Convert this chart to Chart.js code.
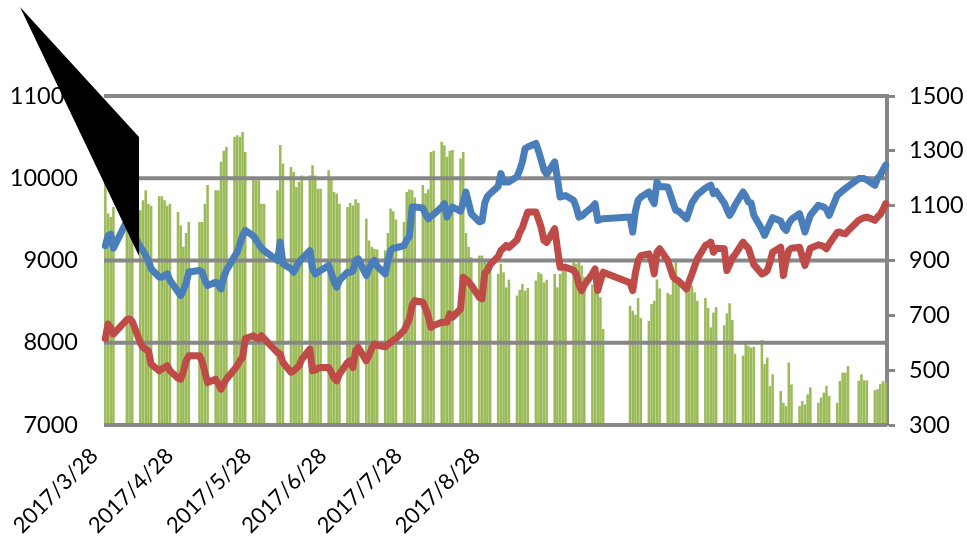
<!DOCTYPE html>
<html>
<head>
<meta charset="utf-8">
<script src="https://cdn.jsdelivr.net/npm/chart.js@4.4.1/dist/chart.umd.min.js"></script>
<style>
  html, body { margin: 0; padding: 0; background: #fff; }
  canvas { display: block; }
</style>
</head>
<body>
<canvas id="chart" width="967" height="547"></canvas>
<script>
// calendar axis: one category per day, bars only on trading days
var startDate = new Date(2017, 2, 28);
var dayCount = 291;
var holidays = ['2017/4/3', '2017/4/4', '2017/5/1', '2017/5/29', '2017/5/30',
  '2017/10/2', '2017/10/3', '2017/10/4', '2017/10/5', '2017/10/6', '2018/1/1'];

// tick labels and the category each one is drawn on
var tickLabels = ['2017/3/28', '2017/4/28', '2017/5/28', '2017/6/28', '2017/7/28', '2017/8/28'];
var tickIndex = [0, 28, 57, 85, 113, 142];

// one value per trading day (right axis)
var volume = [
  1192,1071,1059,1095, 1150,1120,1100, 1083,1120,1156,1107,1100, 1134,1134,1120,1100,1107, 1077,1028,950,1000,1040,
  1040,1040,1107,1175, 1156,1156,1260,1300,1315, 1351,1357,1351,1369,1296, 1203,1193,1193,1107,1107,
  1156,1321,1254, 1241,1223,1168,1186,1210, 1210,1247,1210,1162,1162, 1229,1205,1150,1144,1107, 1095,1110,1101,1123,1110,
  1053,973,950,943,940, 937,1000,1090,1080,1050, 1040,1150,1159,1156,1130, 1175,1145,1160,1296,1300,
  1333,1320,1278,1300,1303, 1272,1296,1000,950,912, 918,918,906,890,880, 851,888,857,802,830,
  772,793,815,790,800, 827,857,851,820,830, 851,802,851,863,888, 906,888,906,882,840, 812,845,800,766,650,
  735,717,702,763,690, 680,741,753,831,798, 782,776,863,900,839, 808,827,808,784,753,
  763,727,656,710,730, 664,707,744,683,560, 553,607,589,583,585, 610,522,546,442,485,
  424,381,369,528,448, 369,387,375,412,437, 381,400,418,443,406, 381,461,491,491,515,
  461,485,463,463, 427,431,449,460,455
];

// left axis lines
var blueLine = [
  9180,9300,9320,9150, 9480,9450,9350, 9163,9120,9060,9000,8900, 8800,8797,8820,8837,8760, 8620,8573,8640,8720,8860,
  8878,8860,8760,8695, 8736,8700,8655,8800,8880, 9050,9100,9200,9300,9366, 9300,9250,9200,9150,9120,
  9000,9224,8960, 8900,8858,8920,8980,9020, 9120,8900,8837,8860,8878, 8939,8850,8740,8675,8760, 8858,8858,8870,9000,9020,
  8817,8900,8970,9000,8930, 8837,8990,9120,9150,9155, 9180,9250,9290,9650,9650, 9640,9560,9508,9540,9560,
  9650,9691,9528,9600,9650, 9600,9700,9833,9700,9569, 9470,9480,9700,9780,9813, 9900,10057,9955,9955,9955,
  10020,10098,10200,10362,10380, 10423,10330,10220,10100,10050, 10199,10000,9772,9780,9790, 9732,9650,9528,9540,9570, 9650,9691,9488,9500,9508,
  9528,9346,9600,9732,9770, 9833,9750,9691,9955,9900, 9894,9800,9700,9610,9600, 9508,9600,9700,9750,9800,
  9880,9900,9915,9813,9840, 9700,9620,9549,9600,9671, 9833,9780,9711,9700,9549, 9380,9305,9380,9450,9520,
  9480,9400,9366,9450,9500, 9569,9460,9346,9450,9550, 9671,9660,9650,9620,9549, 9793,9820,9850,9874,9900,
  9996,9996,9996,9980, 9915,10000,10037,10100,10159
];

var redLine = [
  8050,8228,8180,8106, 8280,8289,8260, 8000,7943,7920,7902,7740, 7659,7680,7700,7720,7660, 7570,7557,7650,7780,7841,
  7841,7770,7640,7516, 7557,7500,7435,7500,7560, 7679,7720,7780,7821,8050, 8085,8060,8045,8085,8050,
  7880,7862,7760, 7640,7660,7690,7720,7800, 7923,7659,7670,7690,7699, 7699,7640,7570,7537,7620, 7760,7780,7700,7902,7943,
  7780,7850,7930,7984,7970, 7950,7980,8004,8030,8050, 8150,8220,8290,8450,8512, 8492,8420,8320,8187,8210,
  8248,8248,8250,8350,8310, 8411,8797,8770,8740,8700, 8550,8533,8850,8878,8950, 9050,9122,9150,9183,9160,
  9250,9340,9400,9500,9589, 9589,9500,9400,9244,9220, 9386,9150,8919,8919,8919, 8880,8837,8700,8634,8700, 8840,8898,8634,8750,8858,
  8730,8634,8850,9000,9060, 9081,9000,8837,9100,9142, 9000,8900,8800,8770,8750, 8655,8750,8837,8930,9020,
  9183,9200,9224,9100,9150, 9142,8878,8950,9030,9070, 9224,9180,9150,9050,8950, 8837,8850,8878,8980,9100,
  9163,8817,9000,9122,9150, 9160,9050,8939,9050,9150, 9190,9183,9170,9142,9200, 9340,9346,9330,9325,9360,
  9490,9508,9520,9528, 9488,9530,9560,9620,9691
];

var labels = [], volData = [], blueData = [], redData = [];
var k = 0;
for (var d = 0; d < dayCount; d++) {
  var dt = new Date(startDate.getFullYear(), startDate.getMonth(), startDate.getDate() + d);
  var s = dt.getFullYear() + '/' + (dt.getMonth() + 1) + '/' + dt.getDate();
  labels.push(s);
  var wd = dt.getDay();
  if (wd > 0 && wd < 6 && holidays.indexOf(s) < 0 && k < volume.length) {
    volData.push(volume[k]);
    blueData.push(blueLine[k]);
    redData.push(redLine[k]);
    k++;
  } else {
    volData.push(null);
    blueData.push(null);
    redData.push(null);
  }
}

var gridColor = '#878787';
var labelFont = { family: 'Lato', size: 23.5 };
var plain = function(v) { return String(v); };

// horizontal grid drawn over the bars but under the lines
var gridOverBars = {
  id: 'gridOverBars',
  afterDatasetDraw: function(chart, args) {
    if (args.index !== 0) return;
    var ctx = chart.ctx, area = chart.chartArea, y = chart.scales.y;
    ctx.save();
    ctx.strokeStyle = gridColor;
    ctx.lineWidth = 4;
    y.ticks.forEach(function(t) {
      var py = y.getPixelForValue(t.value);
      ctx.beginPath();
      ctx.moveTo(area.left, py);
      ctx.lineTo(area.right, py);
      ctx.stroke();
    });
    ctx.restore();
  }
};

// black pointer shape in the top-left corner
var pointer = {
  id: 'pointer',
  afterDatasetsDraw: function(chart) {
    var ctx = chart.ctx;
    ctx.save();
    ctx.fillStyle = '#000';
    ctx.beginPath();
    ctx.moveTo(20, 7);
    ctx.lineTo(139, 137);
    ctx.lineTo(139, 256);
    ctx.closePath();
    ctx.fill();
    ctx.restore();
  }
};

new Chart(document.getElementById('chart').getContext('2d'), {
  type: 'bar',
  data: {
    labels: labels,
    datasets: [
      {
        type: 'bar',
        data: volData,
        yAxisID: 'y1',
        backgroundColor: '#9BBB59',
        barPercentage: 0.95,
        categoryPercentage: 1,
        order: 3
      },
      {
        type: 'line',
        data: blueData,
        yAxisID: 'y',
        borderColor: '#4A7EBB',
        borderWidth: 7,
        borderJoinStyle: 'round',
        borderCapStyle: 'round',
        pointRadius: 0,
        spanGaps: true,
        tension: 0,
        order: 1
      },
      {
        type: 'line',
        data: redData,
        yAxisID: 'y',
        borderColor: '#BE4B48',
        borderWidth: 7,
        borderJoinStyle: 'round',
        borderCapStyle: 'round',
        pointRadius: 0,
        spanGaps: true,
        tension: 0,
        order: 2
      }
    ]
  },
  options: {
    responsive: false,
    animation: false,
    devicePixelRatio: 1,
    layout: { padding: { top: 96, left: 0, right: 0, bottom: 0 } },
    plugins: { legend: { display: false }, tooltip: { enabled: false } },
    scales: {
      x: {
        offset: true,
        grid: { display: false },
        border: { display: false },
        ticks: {
          autoSkip: false,
          minRotation: 45,
          maxRotation: 45,
          padding: 10,
          labelOffset: -11,
          color: '#000',
          font: { family: 'Lato', size: 22 },
          callback: function(v, i) {
            var n = tickIndex.indexOf(i);
            return n < 0 ? null : tickLabels[n];
          }
        },
        afterFit: function(s) { s.height = 122; }
      },
      y: {
        position: 'left',
        min: 7000,
        max: 11000,
        grid: { display: false },
        border: { display: false },
        ticks: { stepSize: 1000, padding: 18, color: '#000', font: labelFont, callback: plain },
        afterFit: function(s) { s.width = 104; }
      },
      y1: {
        position: 'right',
        min: 300,
        max: 1500,
        grid: { drawOnChartArea: false, color: gridColor, tickColor: gridColor, tickWidth: 3, tickLength: 8 },
        border: { display: true, color: gridColor, width: 4 },
        ticks: { stepSize: 200, padding: 14, color: '#000', font: labelFont, callback: plain },
        afterFit: function(s) { s.width = 80; }
      }
    }
  },
  plugins: [gridOverBars, pointer]
});
</script>
</body>
</html>
